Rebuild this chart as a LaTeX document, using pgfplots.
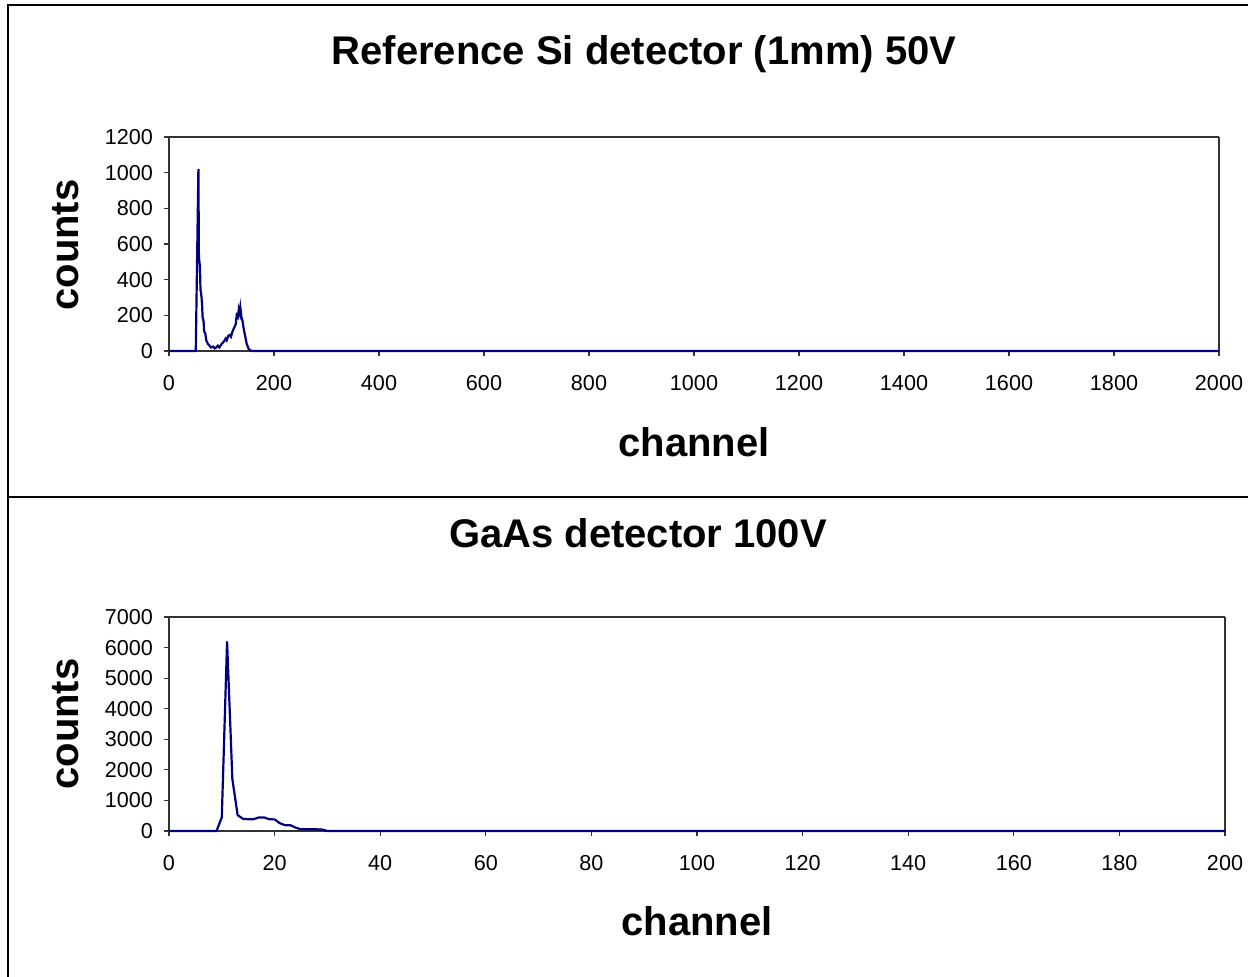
\documentclass[border=0pt]{standalone}
\usepackage{pgfplots}
\pgfplotsset{compat=1.18}
\usepackage{fontspec}
\setmainfont{Liberation Sans}
\definecolor{navyline}{HTML}{000080}
\definecolor{frameg}{HTML}{808080}
\definecolor{axisk}{HTML}{333333}

\pgfplotsset{
  spec/.style={
    scale only axis, anchor=south west,
    height=107pt,
    axis line style={frameg, line width=0.9pt},
    separate axis lines,
    every outer x axis line/.append style={axisk},
    every outer y axis line/.append style={axisk},
    tick align=outside, major tick length=2.5pt,
    tick style={axisk, line width=0.6pt},
    xtick pos=bottom, ytick pos=left,
    ticklabel style={font=\fontsize{10.8}{12}\selectfont},
    /pgf/number format/assume math mode=true,
    /pgf/number format/1000 sep={},
    scaled ticks=false,
    xticklabel style={yshift=-6pt},
    yticklabel style={xshift=-2pt},
    ymin=0, xmin=0,
    clip=false,
  },
}

\begin{document}
\begin{tikzpicture}
\useasboundingbox (0,0) rectangle (624pt,-488pt);
\draw[black, line width=0.6pt] (4pt,-2.5pt) rectangle (630pt,-248.5pt);
\draw[black, line width=0.6pt] (4pt,-248.5pt) rectangle (630pt,-492pt);

\begin{axis}[spec, at={(84.5pt,-175.5pt)}, width=525pt,
  xmax=2000, ymax=1200,
  xtick={0,200,...,2000}, ytick={0,200,...,1200}]
\addplot[navyline, line width=1.1pt] coordinates {
(0,0) (51,0) (56,1020) (57,520) (58,500) (59,470) (60,340) (61,330) (62,300)
(63,260) (64,190) (65,180) (66,160) (67,110) (69,100) (71,60) (74,40) (77,30)
(80,20) (84,25) (87,15) (90,20) (93,30) (96,20) (99,35) (102,45) (105,55)
(108,70) (110,60) (113,85) (116,90) (118,80) (121,110) (124,130) (127,150)
(129,200) (131,190) (133,235) (135,210) (136,240) (138,190) (140,170)
(142,130) (144,100) (146,70) (148,40) (150,25) (152,10) (155,5) (157,0)
(2000,0)};
\end{axis}

\begin{axis}[spec, at={(84.5pt,-415.5pt)}, width=528pt,
  xmax=200, ymax=7000,
  xtick={0,20,...,200}, ytick={0,1000,...,7000}]
\addplot[navyline, line width=1.1pt] coordinates {
(0,0) (9,0) (10,450) (11,6200) (12,1700) (13,520) (14,400) (15,385) (16,385)
(17,445) (18,445) (19,385) (20,380) (21,255) (22,190) (23,190) (24,110)
(25,55) (26,55) (27,55) (28,55) (29,50) (30,0) (200,0)};
\end{axis}

\node[font=\bfseries\fontsize{20}{24}\selectfont] at (322pt,-27pt) {Reference Si detector (1mm) 50V};
\node[font=\bfseries\fontsize{20}{24}\selectfont] at (319pt,-266.5pt) {GaAs detector 100V};
\node[font=\bfseries\fontsize{20}{24}\selectfont] at (347pt,-221pt) {channel};
\node[font=\bfseries\fontsize{20}{24}\selectfont] at (348.5pt,-460.5pt) {channel};
\node[font=\bfseries\fontsize{20}{24}\selectfont, rotate=90] at (33pt,-122.5pt) {counts};
\node[font=\bfseries\fontsize{20}{24}\selectfont, rotate=90] at (33pt,-362pt) {counts};
\end{tikzpicture}
\end{document}
